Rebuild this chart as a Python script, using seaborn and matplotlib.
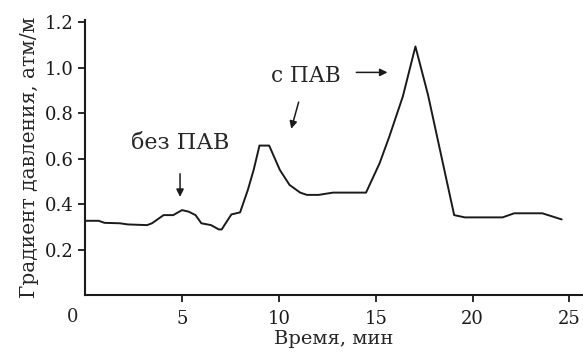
import numpy as np
import pandas as pd
import seaborn as sns
import matplotlib.pyplot as plt

# values
time_min = [0.0, 0.7, 1.0, 1.8, 2.2, 3.2, 3.45, 4.05, 4.55, 5.0, 5.35, 5.7, 6.0, 6.5,
            6.9, 7.05, 7.55, 8.0, 8.4, 8.7, 9.0, 9.5, 10.05, 10.55, 11.1, 11.45,
            12.05, 12.8, 14.5, 15.2, 15.7, 16.4, 17.05, 17.7, 19.05, 19.6, 21.55,
            22.15, 23.6, 24.6]
grad = [0.327, 0.327, 0.318, 0.316, 0.311, 0.308, 0.316, 0.352, 0.352, 0.374, 0.367,
        0.352, 0.316, 0.308, 0.289, 0.289, 0.355, 0.364, 0.463, 0.551, 0.658, 0.658,
        0.551, 0.485, 0.451, 0.441, 0.441, 0.451, 0.451, 0.58, 0.697, 0.874, 1.094,
        0.881, 0.352, 0.342, 0.342, 0.36, 0.36, 0.333]
y_ticks = [0.2, 0.4, 0.6, 0.8, 1.0, 1.2]
x_ticks = [5, 10, 15, 20, 25]

df = pd.DataFrame({"t": time_min, "g": grad})

sns.set_style("ticks")
plt.rcParams['font.family'] = ['DejaVu Serif']
plt.rcParams['font.size'] = 13

fig, ax = plt.subplots(figsize=(5.83, 3.53), dpi=100)
fig.subplots_adjust(left=0.146, right=1.0, bottom=0.164, top=0.943)

sns.lineplot(data=df, x="t", y="g", ax=ax, color="#1a1a1a", lw=1.4)

ax.set_xlim(0, 25.7)
ax.set_ylim(0, 1.21)
ax.set_xticks(x_ticks)
ax.set_yticks(y_ticks)
ax.set_yticklabels([f"{v:.1f}" for v in y_ticks])
ax.tick_params(direction="out", length=5, width=1.3, labelsize=13, colors="#1a1a1a")
ax.tick_params(axis="x", pad=6)
for s in ["top", "right"]:
    ax.spines[s].set_visible(False)
for s in ["left", "bottom"]:
    ax.spines[s].set_linewidth(1.5)
    ax.spines[s].set_color("#1a1a1a")

ax.set_xlabel("Время, мин", fontsize=14, labelpad=1)
ax.set_ylabel("Градиент давления, атм/м", fontsize=14.5, labelpad=4)
ax.text(-0.65, -0.055, "0", ha="center", va="top", fontsize=13, clip_on=False)

arr = dict(arrowstyle="-|>", color="#1a1a1a", lw=1.1, mutation_scale=11)
ax.annotate("без ПАВ", xy=(4.9, 0.42), xytext=(4.9, 0.67), ha="center", va="center",
            fontsize=16, arrowprops=dict(arr, shrinkA=12))
ax.annotate("с ПАВ", xy=(10.6, 0.72), xytext=(11.4, 0.965), ha="center", va="center",
            fontsize=15.5, arrowprops=dict(arr, shrinkA=9))
ax.annotate("", xy=(15.75, 0.98), xytext=(14.0, 0.98), arrowprops=dict(arr, shrinkA=0))

plt.savefig("out.png", dpi=100)
